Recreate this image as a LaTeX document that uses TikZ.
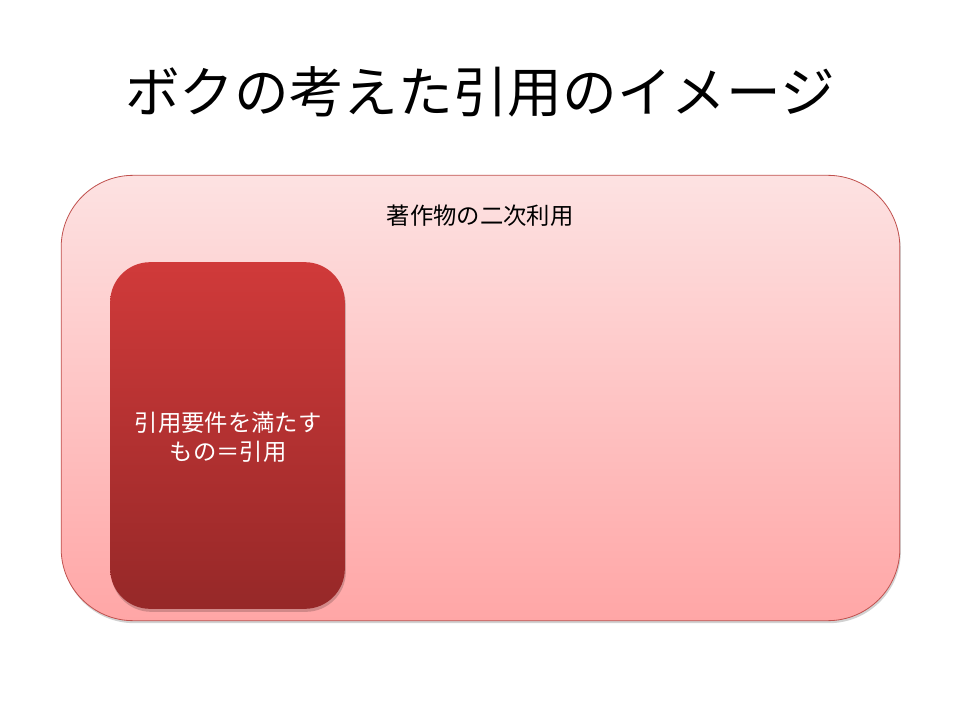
\documentclass[tikz,border=0pt]{standalone}
\usepackage{fontspec}
\setmainfont{Noto Sans CJK JP}
\begin{document}
\begin{tikzpicture}[x=0.75pt,y=-0.75pt]
\definecolor{outertop}{HTML}{FDE2E2}
\definecolor{outerbot}{HTML}{FFA6A6}
\definecolor{outerline}{HTML}{C0504D}
\definecolor{innertop}{HTML}{D03A3A}
\definecolor{innerbot}{HTML}{962828}
\tikzset{
  outerbox/.style={rectangle, rounded corners=54pt, draw=outerline, line width=0.6pt,
    top color=outertop, bottom color=outerbot, minimum width=629pt, minimum height=334pt, inner sep=0pt},
  innerbox/.style={rectangle, rounded corners=30pt, draw=none,
    top color=innertop, bottom color=innerbot, minimum width=176pt, minimum height=260pt, inner sep=0pt},
  shadowbox/.style={rectangle, fill=black, opacity=0.18, inner sep=0pt},
  titletext/.style={font=\fontsize{41}{48}\selectfont},
  labeltext/.style={font=\fontsize{17.5}{22}\selectfont},
}
\useasboundingbox[fill=white] (0,0) rectangle (960,720);
\node[titletext] (title) at (480,92) {ボクの考えた引用のイメージ};
\node[shadowbox, rounded corners=54pt, minimum width=629pt, minimum height=334pt] (outershadow) at (481.5,400.5) {};
\node[outerbox] (outer) at (480.5,398) {};
\node[labeltext] (outerlabel) at (480,216) {著作物の二次利用};
\node[shadowbox, rounded corners=30pt, minimum width=176pt, minimum height=260pt] (innershadow) at (228.5,438.5) {};
\node[innerbox] (inner) at (227.5,435.5) {};
\node[labeltext, text=white, align=center] (innerlabel) at (228,437) {引用要件を満たす\\もの＝引用};
\end{tikzpicture}
\end{document}
